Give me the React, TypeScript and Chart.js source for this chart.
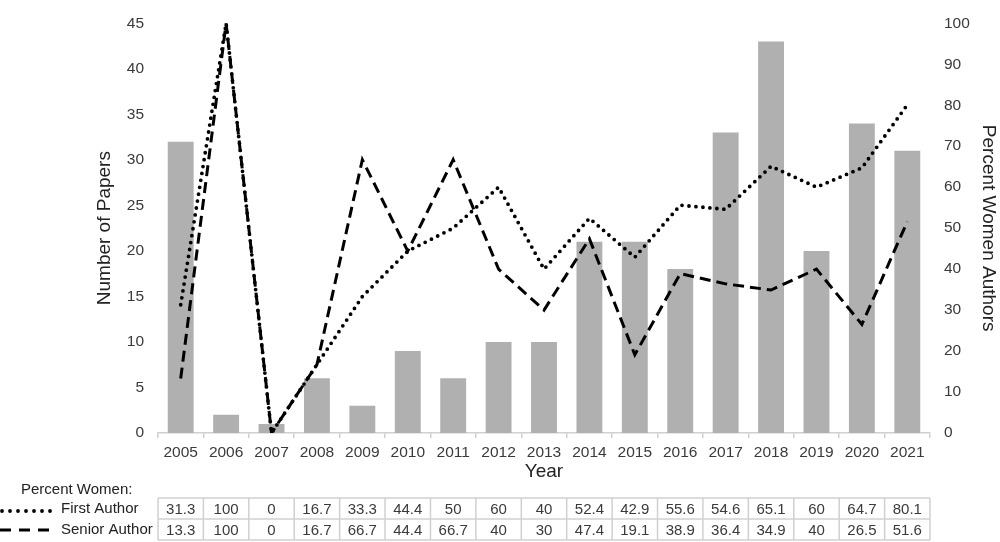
import React, { useEffect, useRef } from "react";
import { Chart, registerables } from "chart.js";

Chart.register(...registerables);

const years = ["2005","2006","2007","2008","2009","2010","2011","2012","2013","2014","2015","2016","2017","2018","2019","2020","2021"];
const papers = [32, 2, 1, 6, 3, 9, 6, 10, 10, 21, 21, 18, 33, 43, 20, 34, 31];
const firstAuthor = [31.3, 100, 0, 16.7, 33.3, 44.4, 50, 60, 40, 52.4, 42.9, 55.6, 54.6, 65.1, 60, 64.7, 80.1];
const seniorAuthor = [13.3, 100, 0, 16.7, 66.7, 44.4, 66.7, 40, 30, 47.4, 19.1, 38.9, 36.4, 34.9, 40, 26.5, 51.6];
const tableHeader = "Percent Women:";
const firstLabel = "First Author";
const seniorLabel = "Senior Author";

const FONT = "'Liberation Sans', Arial, sans-serif";
const TICK_COLOR = "#3a3a3a";
const TITLE_COLOR = "#222222";

const tablePlugin = {
  id: "dataTable",
  afterDraw(chart: any) {
    const ctx = chart.ctx;
    const xs = chart.scales.x;
    const step = xs.getPixelForValue(1) - xs.getPixelForValue(0);
    const left = xs.getPixelForValue(0) - step / 2;
    const top = 498;
    const rowH = 21;
    const rows = [firstAuthor, seniorAuthor];
    ctx.save();
    ctx.strokeStyle = "#d0d0d0";
    ctx.lineWidth = 1.5;
    const right = left + step * years.length;
    for (let r = 0; r <= rows.length; r++) {
      ctx.beginPath();
      ctx.moveTo(left, top + r * rowH);
      ctx.lineTo(right, top + r * rowH);
      ctx.stroke();
    }
    for (let c = 0; c <= years.length; c++) {
      ctx.beginPath();
      ctx.moveTo(left + c * step, top);
      ctx.lineTo(left + c * step, top + rows.length * rowH);
      ctx.stroke();
    }
    ctx.fillStyle = TICK_COLOR;
    ctx.font = `15px ${FONT}`;
    ctx.textAlign = "center";
    ctx.textBaseline = "middle";
    rows.forEach((row, r) => {
      row.forEach((v, c) => {
        ctx.fillText(String(v), left + c * step + step / 2, top + r * rowH + rowH / 2 + 1);
      });
    });
    ctx.fillStyle = TITLE_COLOR;
    ctx.textAlign = "left";
    ctx.fillText(tableHeader, 21, 490);
    ctx.fillText(firstLabel, 61, 509);
    ctx.fillText(seniorLabel, 61, 530);
    ctx.strokeStyle = "#000";
    ctx.lineCap = "round";
    ctx.lineWidth = 3.8;
    ctx.setLineDash([0, 8]);
    ctx.beginPath();
    ctx.moveTo(2, 511);
    ctx.lineTo(52, 511);
    ctx.stroke();
    ctx.lineCap = "butt";
    ctx.lineWidth = 3.2;
    ctx.setLineDash([11, 8]);
    ctx.beginPath();
    ctx.moveTo(0, 530);
    ctx.lineTo(50, 530);
    ctx.stroke();
    ctx.restore();
  },
};

export default function App() {
  const ref = useRef<HTMLCanvasElement | null>(null);

  useEffect(() => {
    document.body.style.margin = "0";
    const canvas = ref.current;
    if (!canvas) return;
    const chart = new Chart(canvas, {
      type: "bar",
      data: {
        labels: years,
        datasets: [
          {
            type: "line",
            label: firstLabel,
            data: firstAuthor,
            yAxisID: "y1",
            borderColor: "#000",
            borderWidth: 3.8,
            borderDash: [0, 7],
            borderCapStyle: "round",
            pointRadius: 0,
            tension: 0,
            fill: false,
            order: 0,
          } as any,
          {
            type: "line",
            label: seniorLabel,
            data: seniorAuthor,
            yAxisID: "y1",
            borderColor: "#000",
            borderWidth: 3,
            borderDash: [11, 6],
            borderCapStyle: "butt",
            pointRadius: 0,
            tension: 0,
            fill: false,
            order: 1,
          } as any,
          {
            type: "bar",
            label: "Number of Papers",
            data: papers,
            yAxisID: "y",
            backgroundColor: "#b0b0b0",
            borderWidth: 0,
            barPercentage: 0.57,
            categoryPercentage: 1,
            order: 2,
          } as any,
        ],
      },
      options: {
        animation: false,
        responsive: false,
        devicePixelRatio: 1,
        layout: { padding: { left: 93, right: 0, top: 10, bottom: 62 } },
        plugins: {
          legend: { display: false },
          tooltip: { enabled: false },
        },
        scales: {
          x: {
            type: "category",
            offset: true,
            grid: {
              display: true,
              drawOnChartArea: false,
              drawTicks: true,
              tickLength: 5,
              color: "#d0d0d0",
              lineWidth: 1.5,
              offset: true,
            },
            border: { display: true, color: "#d0d0d0", width: 1.5 },
            ticks: {
              color: TICK_COLOR,
              font: { family: FONT, size: 15.5 },
              padding: 5,
              maxRotation: 0,
              autoSkip: false,
            },
            title: {
              display: true,
              text: "Year",
              color: TITLE_COLOR,
              font: { family: FONT, size: 19 },
              padding: { top: 0, bottom: -3 },
            },
            afterFit(scale: any) {
              scale.height = 47;
            },
          },
          y: {
            position: "left",
            min: 0,
            max: 45,
            grid: { display: false, drawTicks: false },
            border: { display: false },
            ticks: {
              stepSize: 5,
              color: TICK_COLOR,
              font: { family: FONT, size: 15.5 },
              padding: 14,
            },
            title: {
              display: true,
              text: "Number of Papers",
              color: TITLE_COLOR,
              font: { family: FONT, size: 19 },
              padding: { top: 0, bottom: 0 },
            },
            afterFit(scale: any) {
              scale.width = 65;
            },
          },
          y1: {
            position: "right",
            min: 0,
            max: 100,
            grid: { display: false, drawTicks: false },
            border: { display: false },
            ticks: {
              stepSize: 10,
              color: TICK_COLOR,
              font: { family: FONT, size: 15.5 },
              padding: 14,
            },
            title: {
              display: true,
              text: "Percent Women Authors",
              color: TITLE_COLOR,
              font: { family: FONT, size: 19 },
              padding: { top: 0, bottom: 0 },
            },
            afterFit(scale: any) {
              scale.width = 70;
            },
          },
        },
      } as any,
      plugins: [tablePlugin],
    });
    return () => chart.destroy();
  }, []);

  return (
    <div style={{ position: "fixed", left: 0, top: 0, width: 1000, height: 542, background: "#fff" }}>
      <canvas ref={ref} width={1000} height={542} style={{ width: 1000, height: 542, display: "block" }} />
    </div>
  );
}
